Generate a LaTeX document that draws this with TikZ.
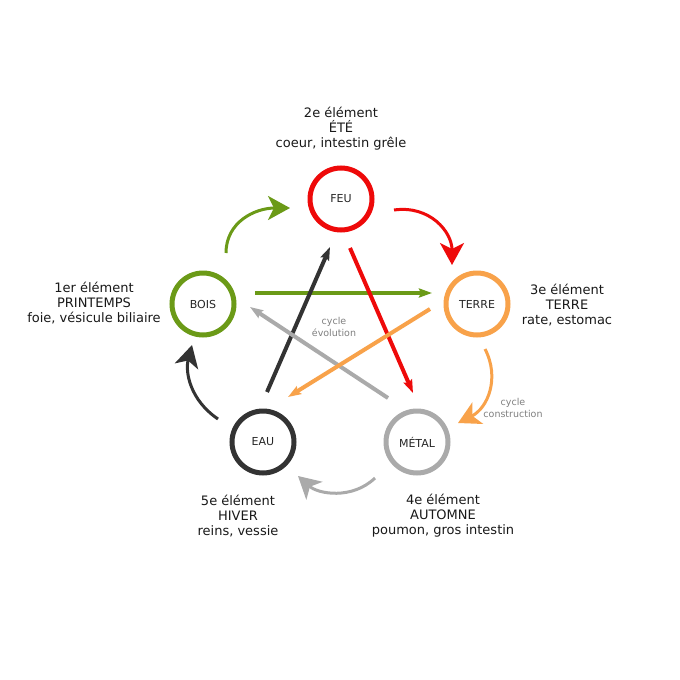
\documentclass[tikz,border=0pt]{standalone}
\usepackage{fontspec}
\setmainfont{DejaVu Sans}
\usetikzlibrary{arrows.meta}
\definecolor{cgreen}{HTML}{6B9A17}
\definecolor{cred}{HTML}{EE0A0A}
\definecolor{corange}{HTML}{F8A24A}
\definecolor{cgray}{HTML}{AAAAAA}
\definecolor{cdark}{HTML}{333333}
\begin{document}
\begin{tikzpicture}[x=1pt,y=-1pt,
 elem/.style={circle,draw=#1,line width=5pt,minimum size=62pt,inner sep=0pt,font=\fontsize{11}{13}\selectfont,text=black!85},
 lbl/.style={align=center,font=\fontsize{13}{15}\selectfont,text=black!90,inner sep=0pt},
 note/.style={align=center,font=\fontsize{9.5}{12}\selectfont,text=black!50,inner sep=0pt},
 star/.style={line width=4pt,color=#1,-{Stealth[length=13pt,width=9pt,inset=2pt]}},
 cyc/.style={line width=3pt,color=#1,-{Stealth[length=22pt,width=24pt,inset=6pt]}}]
\useasboundingbox[fill=white] (0,0) rectangle (680,680);

% elements
\node[elem=cred] (FEU) at (341,199) {FEU};
\node[elem=cgreen] (BOIS) at (203,304) {BOIS};
\node[elem=corange] (TERRE) at (477,304) {TERRE};
\node[elem=cdark] (EAU) at (263,442) {EAU};
\node[elem=cgray] (METAL) at (417,442) {MÉTAL};

% labels
\node[lbl] (lFEU) at (341,129) {2e élément\\ÉTÉ\\coeur, intestin grêle};
\node[lbl] (lBOIS) at (94,303.5) {1er élément\\PRINTEMPS\\foie, vésicule biliaire};
\node[lbl] (lTERRE) at (567,305.5) {3e élément\\TERRE\\rate, estomac};
\node[lbl] (lEAU) at (238,516) {5e élément\\HIVER\\reins, vessie};
\node[lbl] (lMETAL) at (443,516) {4e élément\\AUTOMNE\\poumon, gros intestin};

\node[note] (nevo) at (334,327) {cycle\\évolution};
\node[note] (ncons) at (513,408) {cycle\\construction};

% star endpoints
\coordinate (gS) at (255,293); \coordinate (gE) at (432,293);
\coordinate (rS) at (350,248); \coordinate (rE) at (413,393);
\coordinate (oS) at (430,309); \coordinate (oE) at (288,397);
\coordinate (aS) at (388,398); \coordinate (aE) at (250,307);
\coordinate (dS) at (267,392); \coordinate (dE) at (330,247);

\draw[star=cgreen] (gS) -- (gE);
\draw[star=cdark] (dS) -- (dE);
\draw[star=cgray] (aS) -- (aE);
\draw[star=cred] (rS) -- (rE);
\draw[star=corange] (oS) -- (oE);

% cycle endpoints
\coordinate (cgS) at (226,253); \coordinate (cgE) at (290,208);
\coordinate (crS) at (394,210); \coordinate (crE) at (452,265);
\coordinate (coS) at (485,349); \coordinate (coE) at (458,423);
\coordinate (caS) at (375,478); \coordinate (caE) at (298,476);
\coordinate (cdS) at (218,419); \coordinate (cdE) at (192,345);

\draw[cyc=cgreen] (cgS) .. controls (226,222) and (255,208) .. (cgE);
\draw[cyc=cred] (crS) .. controls (430,205) and (452,232) .. (crE);
\draw[cyc=corange] (coS) .. controls (500,378) and (488,408) .. (coE);
\draw[cyc=cgray] (caS) .. controls (352,500) and (318,494) .. (caE);
\draw[cyc=cdark] (cdS) .. controls (190,400) and (185,372) .. (cdE);
\end{tikzpicture}
\end{document}
